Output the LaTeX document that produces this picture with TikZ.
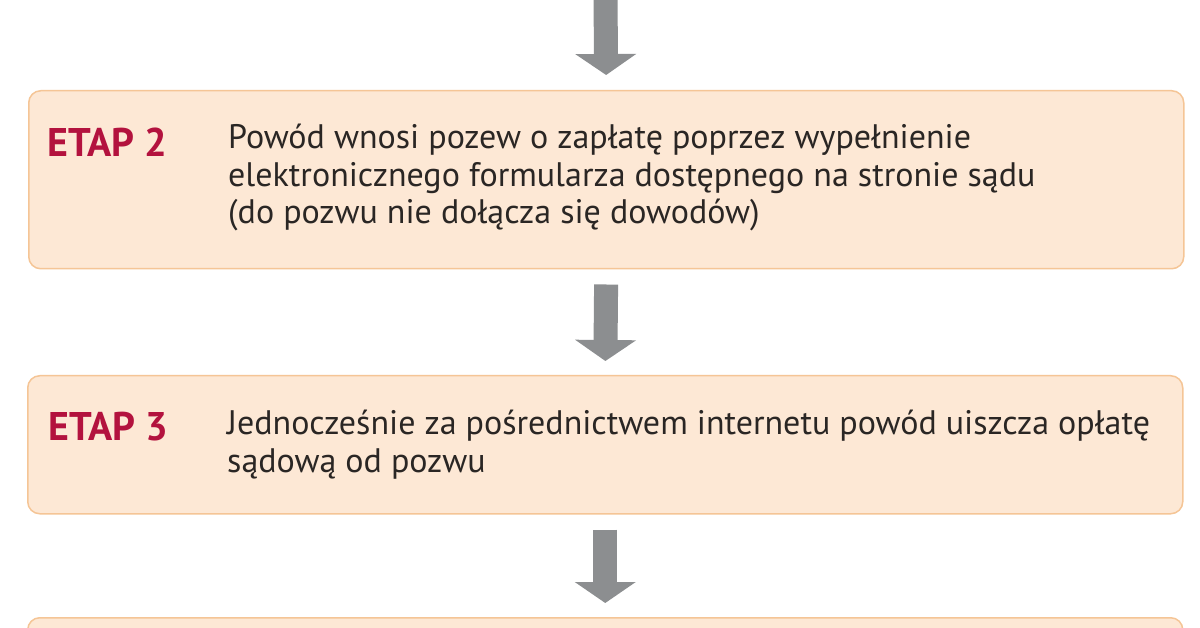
\documentclass[tikz,border=0pt]{standalone}
\usepackage{fontspec}
\setmainfont{PT Sans}
\usetikzlibrary{arrows.meta,positioning}
\definecolor{etapfill}{HTML}{FDE8D5}
\definecolor{etapline}{HTML}{F5C596}
\definecolor{etapred}{HTML}{B3123E}
\definecolor{etaptext}{HTML}{2A2624}
\definecolor{strzalka}{HTML}{8C8E90}
\tikzset{font={\fontsize{34pt}{37.5pt}\selectfont}}
\tikzset{
	etapbox/.style={draw=etapline, line width=1.5pt, fill=etapfill, rounded corners=12pt,
		minimum width=1155pt, inner sep=0pt, anchor=north west},
	etaplabel/.style={text=etapred, font={\fontsize{40pt}{40pt}\selectfont\bfseries}, inner sep=0pt},
	etapopis/.style={text=etaptext, align=left, inner sep=0pt},
	strzalka/.style={draw=strzalka, line width=24pt, -{Triangle[length=21pt,width=60pt]}}
}

\begin{document}
\begin{tikzpicture}[x=1pt,y=1pt]
		% Page
		\fill[white] (0,0) rectangle (1200,-628);
		\useasboundingbox (0,0) rectangle (1200,-628);
		% Boxes
		\node[etapbox, minimum height=178pt] (e2) at (28,-90) {};
		\node[etapbox, minimum height=138pt] (e3) at (27,-375) {};
		\node[etapbox, minimum height=150pt] (e4) at (27,-617) {};
		\coordinate (start) at (605.5,4);
		% Stage 2 (base = last line)
		\node[etaplabel, below right=67pt and 19pt of e2.north west, anchor=base west] (l2) {ETAP 2};
		\node[etapopis, below right=134pt and 200pt of e2.north west, anchor=base west] (t2)
		{Powód wnosi pozew o zapłatę poprzez wypełnienie\\
			elektronicznego formularza dostępnego na stronie sądu\\
			(do pozwu nie dołącza się dowodów)};
		% Stage 3
		\node[etaplabel, below right=65pt and 21pt of e3.north west, anchor=base west] (l3) {ETAP 3};
		\node[etapopis, below right=97pt and 200pt of e3.north west, anchor=base west] (t3)
		{Jednocześnie za pośrednictwem internetu powód uiszcza opłatę\\
			sądową od pozwu};
		% Arrows
		\draw[strzalka, shorten >=15pt] (start) -- (e2.north);
		\foreach \a/\b in {e2/e3, e3/e4}
		\draw[strzalka, shorten <=15pt, shorten >=14pt] (\a.south) -- (\b.north);
		\end{tikzpicture}
\end{document}
